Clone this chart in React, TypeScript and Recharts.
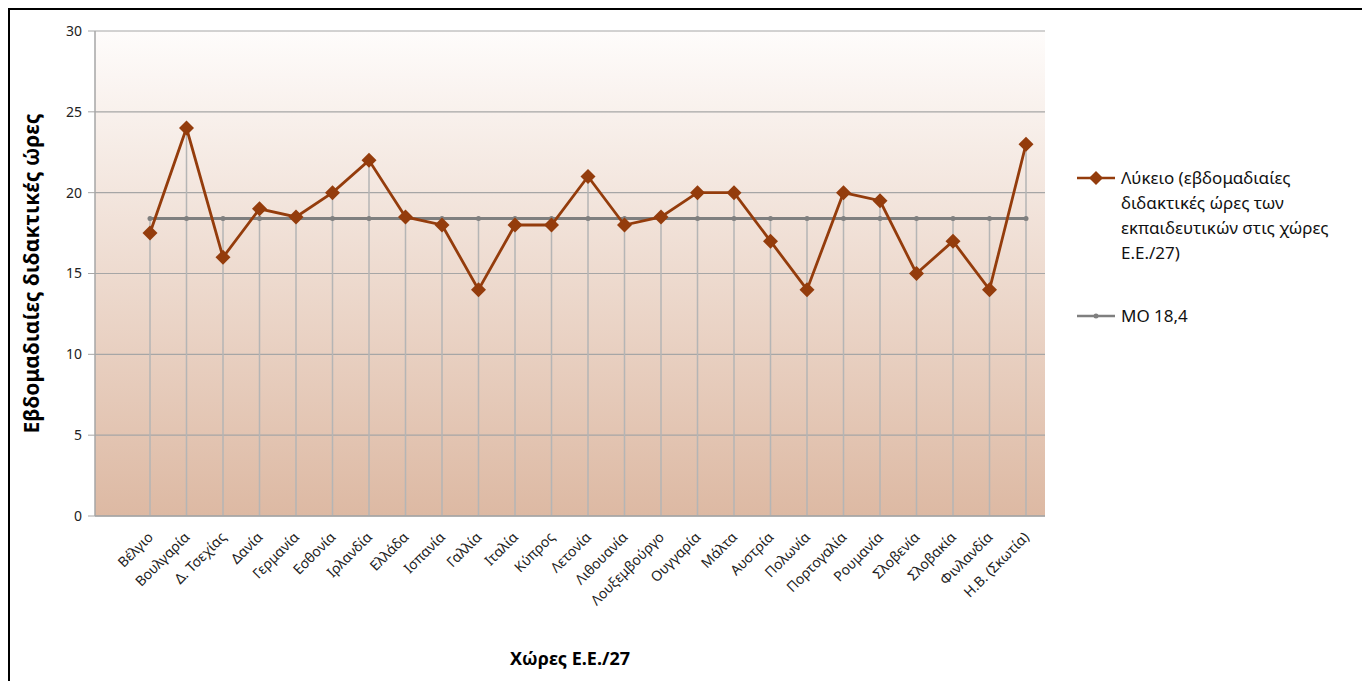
import React from 'react'
import {
  LineChart, Line, XAxis, YAxis, CartesianGrid, ReferenceLine,
} from 'recharts'

const countries = [
  'Βέλγιο', 'Βουλγαρία', 'Δ. Τσεχίας', 'Δανία', 'Γερμανία', 'Εσθονία', 'Ιρλανδία', 'Ελλάδα',
  'Ισπανία', 'Γαλλία', 'Ιταλία', 'Κύπρος', 'Λετονία', 'Λιθουανία', 'Λουξεμβούργο', 'Ουγγαρία',
  'Μάλτα', 'Αυστρία', 'Πολωνία', 'Πορτογαλία', 'Ρουμανία', 'Σλοβενία', 'Σλοβακία', 'Φινλανδία',
  'Η.Β. (Σκωτία)',
]
const hours = [17.5, 24, 16, 19, 18.5, 20, 22, 18.5, 18, 14, 18, 18, 21, 18, 18.5, 20, 20, 17, 14, 20, 19.5, 15, 17, 14, 23]
const mean = 18.4
const yTicks = [0, 5, 10, 15, 20, 25, 30]

const seriesName = 'Λύκειο (εβδομαδιαίες διδακτικές ώρες των εκπαιδευτικών στις χώρες Ε.Ε./27)'
const seriesLegendLines = ['Λύκειο (εβδομαδιαίες', 'διδακτικές ώρες των', 'εκπαιδευτικών στις χώρες', 'Ε.Ε./27)']
const meanName = 'ΜΟ 18,4'

const data = countries.map((c, i) => ({ country: c, hours: hours[i], mean }))

const BROWN = '#943c0c'
const GREY = '#7f7f7f'
const FONT = '"Noto Sans", "Open Sans", sans-serif'

function Diamond(props: any) {
  const { cx, cy } = props
  if (cx == null || cy == null) return null
  const r = 7.5
  return <polygon points={`${cx},${cy - r} ${cx + r},${cy} ${cx},${cy + r} ${cx - r},${cy}`} fill={BROWN} />
}

function CountryTick(props: any) {
  const { x, y, payload } = props
  return (
    <text
      x={x + 4}
      y={y + 14}
      textAnchor="end"
      fontSize={14}
      fontFamily={FONT}
      fill="#222"
      transform={`rotate(-45 ${x + 4} ${y + 14})`}
    >
      {payload.value}
    </text>
  )
}

function LegendBox() {
  return (
    <div style={{ position: 'absolute', left: 1067, top: 155, width: 285, fontFamily: FONT, fontSize: 17, color: '#111', lineHeight: '25px' }}>
      <div style={{ display: 'flex', alignItems: 'flex-start' }}>
        <svg width={44} height={25} style={{ flex: 'none' }}>
          <line x1={0} y1={13} x2={38} y2={13} stroke={BROWN} strokeWidth={2.5} />
          <polygon points="19,6 26,13 19,20 12,13" fill={BROWN} />
        </svg>
        <div>
          {seriesLegendLines.map(l => <div key={l}>{l}</div>)}
        </div>
      </div>
      <div style={{ display: 'flex', alignItems: 'flex-start', marginTop: 38 }}>
        <svg width={44} height={25} style={{ flex: 'none' }}>
          <line x1={0} y1={13} x2={38} y2={13} stroke={GREY} strokeWidth={2.5} />
          <circle cx={19} cy={13} r={2.5} fill={GREY} />
        </svg>
        <div>{meanName}</div>
      </div>
    </div>
  )
}

export default function App() {
  return (
    <div style={{ width: 1354, height: 700, border: '2px solid #000', background: '#fff', position: 'relative' }}>
      <LineChart
        width={1354}
        height={680}
        data={data}
        margin={{ top: 21, right: 319, left: 0, bottom: 0 }}
      >
        <defs>
          <linearGradient id="plotBg" x1="0" y1="0" x2="0" y2="1">
            <stop offset="0%" stopColor="#fefcfb" />
            <stop offset="100%" stopColor="#ddb9a3" />
          </linearGradient>
        </defs>
        <CartesianGrid vertical={false} stroke="#a6a6a6" strokeWidth={1.2} fill="url(#plotBg)" />
        <XAxis
          dataKey="country"
          interval={0}
          height={174}
          padding={{ left: 55, right: 19 }}
          tick={<CountryTick />}
          tickLine={false}
          axisLine={{ stroke: '#a6a6a6', strokeWidth: 1.5 }}
          label={{ value: 'Χώρες Ε.Ε./27', position: 'insideBottom', offset: 25, fontSize: 18, fontWeight: 'bold', fill: '#000', fontFamily: FONT }}
        />
        <YAxis
          width={85}
          domain={[0, 30]}
          ticks={yTicks}
          tickSize={7}
          tickMargin={6}
          tick={{ fontSize: 14, fill: '#222', fontFamily: FONT }}
          tickLine={{ stroke: '#a6a6a6' }}
          axisLine={{ stroke: '#a6a6a6', strokeWidth: 1.5 }}
          label={{ value: 'Εβδομαδιαίες διδακτικές ώρες', angle: -90, position: 'insideLeft', offset: 22, fontSize: 21, fontWeight: 'bold', fill: '#000', fontFamily: FONT, style: { textAnchor: 'middle' } }}
        />
        {data.map(d => (
          <ReferenceLine
            key={d.country}
            segment={[{ x: d.country, y: 0 }, { x: d.country, y: Math.max(d.hours, d.mean) }]}
            stroke="#b5b5b5"
            strokeWidth={1.5}
          />
        ))}
        <Line
          dataKey="mean"
          name={meanName}
          stroke={GREY}
          strokeWidth={3}
          dot={{ r: 2.5, fill: GREY, stroke: 'none' }}
          activeDot={false}
          isAnimationActive={false}
        />
        <Line
          dataKey="hours"
          name={seriesName}
          stroke={BROWN}
          strokeWidth={2.8}
          dot={<Diamond />}
          activeDot={false}
          isAnimationActive={false}
        />
      </LineChart>
      <LegendBox />
    </div>
  )
}
